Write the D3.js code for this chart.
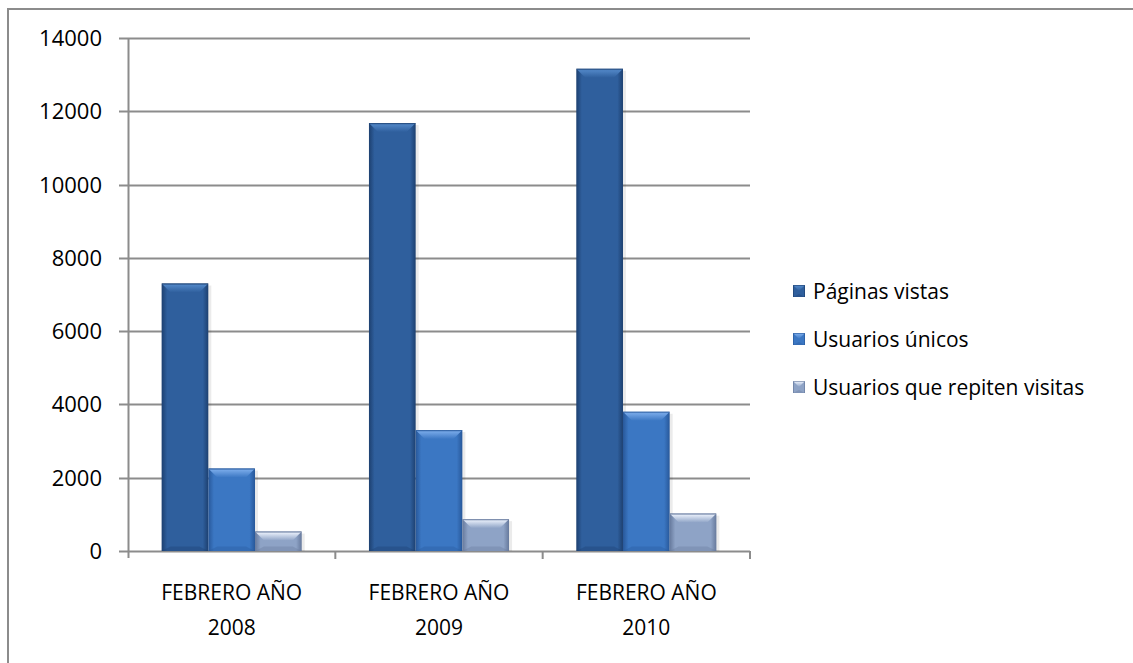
<!DOCTYPE html>
<html>
<head>
<meta charset="utf-8">
<script src="https://cdn.jsdelivr.net/npm/d3@7"></script>
<style>
  html, body { margin: 0; background: #fff; overflow: hidden; }
  svg { display: block; font-family: "Open Sans", "Noto Sans", sans-serif; }
  .tickLabel { font-size: 22px; fill: #000; }
  .catLabel { font-size: 21px; fill: #000; }
  .legendText { font-size: 21px; fill: #000; }
</style>
</head>
<body>
<svg id="chart"></svg>
<script>
var svgWidth = 1133;
var svgHeight = 663;

var categories = ['FEBRERO AÑO|2008', 'FEBRERO AÑO|2009', 'FEBRERO AÑO|2010'];
var seriesNames = ['Páginas vistas', 'Usuarios únicos', 'Usuarios que repiten visitas'];
var paginasVistas = [7300, 11680, 13160];
var usuariosUnicos = [2250, 3300, 3800];
var usuariosRepiten = [530, 870, 1020];
var yTicks = [0, 2000, 4000, 6000, 8000, 10000, 12000, 14000];

var seriesValues = [paginasVistas, usuariosUnicos, usuariosRepiten];

var palette = [
  { main: '#2f5f9d', dark: '#1d4070', light: '#4f84c4' },
  { main: '#3b77c3', dark: '#28589a', light: '#74a6e6' },
  { main: '#8ea3c6', dark: '#66799c', light: '#dfe7f5' }
];

var plot = { left: 128, right: 750, top: 38, bottom: 551 };

var svg = d3.select('#chart').attr('width', svgWidth).attr('height', svgHeight);

svg.append('path')
   .attr('d', 'M8,' + svgHeight + 'L8,9L' + svgWidth + ',9')
   .attr('fill', 'none').attr('stroke', '#8c8c8c').attr('stroke-width', 2);

var xScale = d3.scaleBand()
   .domain(d3.range(categories.length))
   .range([plot.left, plot.right]);

var barScale = d3.scaleBand()
   .domain(d3.range(seriesNames.length))
   .range([0, xScale.bandwidth()])
   .paddingOuter(0.72);

var yScale = d3.scaleLinear()
   .domain([0, 14000])
   .range([plot.bottom, plot.top]);

var defs = svg.append('defs');
palette.forEach(function(c, i){
  var side = defs.append('linearGradient').attr('id', 'side' + i);
  side.append('stop').attr('offset', '0%').attr('stop-color', c.dark);
  side.append('stop').attr('offset', '12%').attr('stop-color', c.main);
  side.append('stop').attr('offset', '88%').attr('stop-color', c.main);
  side.append('stop').attr('offset', '100%').attr('stop-color', c.dark);
  var top = defs.append('linearGradient').attr('id', 'top' + i)
     .attr('x1', 0).attr('y1', 0).attr('x2', 0).attr('y2', 1);
  top.append('stop').attr('offset', '0%').attr('stop-color', c.dark);
  top.append('stop').attr('offset', '20%').attr('stop-color', c.light);
  top.append('stop').attr('offset', '100%').attr('stop-color', c.main);
});

svg.append('g')
   .attr('class', 'grid')
   .selectAll('line')
   .data(yTicks)
   .enter()
   .append('line')
   .attr('x1', plot.left - 9)
   .attr('x2', plot.right)
   .attr('y1', function(d){ return Math.round(yScale(d)) + 0.5; })
   .attr('y2', function(d){ return Math.round(yScale(d)) + 0.5; })
   .attr('stroke', '#8c8c8c')
   .attr('stroke-width', 2);

svg.append('line')
   .attr('x1', plot.left + 0.5).attr('x2', plot.left + 0.5)
   .attr('y1', plot.top).attr('y2', plot.bottom + 7)
   .attr('stroke', '#8c8c8c').attr('stroke-width', 2);

svg.append('g')
   .selectAll('line')
   .data(d3.range(1, categories.length + 1))
   .enter()
   .append('line')
   .attr('x1', function(d){ return d < categories.length ? xScale(d) : plot.right; })
   .attr('x2', function(d){ return d < categories.length ? xScale(d) : plot.right; })
   .attr('y1', plot.bottom)
   .attr('y2', plot.bottom + 8)
   .attr('stroke', '#8c8c8c')
   .attr('stroke-width', 2);

svg.append('g')
   .selectAll('text')
   .data(yTicks)
   .enter()
   .append('text')
   .classed('tickLabel', true)
   .attr('x', 102)
   .attr('y', function(d){ return yScale(d) + 8; })
   .attr('text-anchor', 'end')
   .text(function(d){ return d; });

var bevel = 9;

function drawBar(g, x, y, w, h, i){
  var b = Math.min(bevel, h / 2, w / 2);
  g.append('rect').attr('x', x).attr('y', y).attr('width', w).attr('height', h)
   .attr('fill', 'url(#side' + i + ')');
  g.append('path')
   .attr('d', 'M' + x + ',' + y + 'L' + (x + w) + ',' + y + 'L' + (x + w - b) + ',' + (y + b) + 'L' + (x + b) + ',' + (y + b) + 'Z')
   .attr('fill', 'url(#top' + i + ')');
  g.append('path')
   .attr('d', 'M' + x + ',' + (y + h) + 'L' + (x + w) + ',' + (y + h) + 'L' + (x + w - b) + ',' + (y + h - b / 2) + 'L' + (x + b) + ',' + (y + h - b / 2) + 'Z')
   .attr('fill', palette[i].dark).attr('opacity', 0.35);
}

var bars = svg.append('g').attr('class', 'bars');

categories.forEach(function(cat, c){
  seriesValues.forEach(function(values, s){
    var x = xScale(c) + barScale(s);
    var y = yScale(values[c]);
    var g = bars.append('g');
    g.append('rect')
     .attr('x', x + 3).attr('y', y + 2)
     .attr('width', barScale.bandwidth()).attr('height', plot.bottom - y - 2)
     .attr('fill', '#000').attr('opacity', 0.08);
    drawBar(g, x, y, barScale.bandwidth(), plot.bottom - y, s);
  });
});

var catLabels = svg.append('g')
   .selectAll('text')
   .data(categories)
   .enter()
   .append('text')
   .classed('catLabel', true)
   .attr('text-anchor', 'middle')
   .attr('x', function(d, i){ return xScale(i) + xScale.bandwidth() / 2; })
   .attr('y', 600);

catLabels.append('tspan')
   .attr('x', function(d, i){ return xScale(i) + xScale.bandwidth() / 2; })
   .text(function(d){ return d.split('|')[0]; });
catLabels.append('tspan')
   .attr('x', function(d, i){ return xScale(i) + xScale.bandwidth() / 2; })
   .attr('dy', 35)
   .text(function(d){ return d.split('|')[1]; });

var legendScale = d3.scalePoint()
   .domain(seriesNames)
   .range([291, 387]);

var legend = svg.append('g').attr('class', 'legend');

seriesNames.forEach(function(name, i){
  var cy = legendScale(name);
  drawBar(legend.append('g'), 793, cy - 6, 12, 12, i);
  legend.append('text')
     .classed('legendText', true)
     .attr('x', 813)
     .attr('y', cy + 8)
     .text(name);
});
</script>
</body>
</html>
